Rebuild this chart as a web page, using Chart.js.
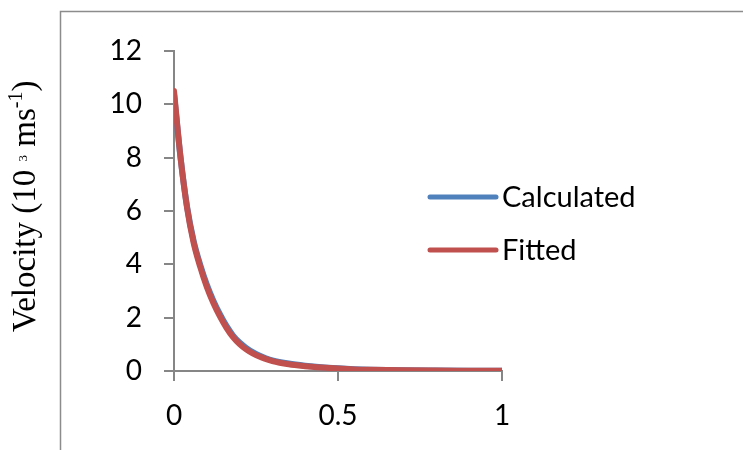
<!DOCTYPE html>
<html>
<head>
<meta charset="utf-8">
<script src="https://cdn.jsdelivr.net/npm/chart.js@4.4.0/dist/chart.umd.min.js"></script>
<style>
  html, body { margin: 0; padding: 0; background: #fff; }
  #wrap { width: 743px; height: 450px; }
</style>
</head>
<body>
<div id="wrap"><canvas id="chart" width="743" height="450"></canvas></div>
<script>
// values
const xValues = [0, 0.02, 0.04, 0.06, 0.08, 0.10, 0.12, 0.14, 0.16, 0.18, 0.20, 0.22, 0.24, 0.26, 0.28, 0.30, 0.35, 0.40, 0.45, 0.50, 0.55, 0.60, 0.70, 0.80, 0.90, 1.00];
const calculated = [10.4, 8.0, 6.15, 4.87, 3.98, 3.24, 2.64, 2.13, 1.69, 1.33, 1.07, 0.87, 0.71, 0.58, 0.48, 0.40, 0.28, 0.2, 0.14, 0.1, 0.07, 0.05, 0.03, 0.02, 0.012, 0.008];
const fitted = [10.5, 8.0, 6.1, 4.8, 3.9, 3.15, 2.55, 2.05, 1.62, 1.27, 1.01, 0.81, 0.66, 0.54, 0.45, 0.37, 0.25, 0.18, 0.13, 0.09, 0.06, 0.045, 0.025, 0.015, 0.01, 0.005];
const seriesNames = ['Calculated', 'Fitted'];
const seriesColors = ['#4F81BD', '#C0504D'];
const yTicks = [0, 2, 4, 6, 8, 10, 12];
const xTicks = [0, 0.5, 1];

const axisGrey = '#868686';
const tickFont = { family: 'Lato, "Open Sans", sans-serif', size: 28 };

function toPoints(ys) {
  return xValues.map((x, i) => ({ x: x, y: ys[i] }));
}

// grey frame, rotated y title with superscripts, and the legend
const decorations = {
  id: 'decorations',
  beforeDraw(chart) {
    const ctx = chart.ctx;
    ctx.save();
    ctx.fillStyle = '#fff';
    ctx.fillRect(0, 0, chart.width, chart.height);
    ctx.strokeStyle = '#8c8c8c';
    ctx.lineWidth = 1.5;
    ctx.strokeRect(60.5, 11.5, 900, 900);
    ctx.restore();
  },
  afterDraw(chart) {
    const ctx = chart.ctx;
    ctx.save();
    // y axis title
    ctx.translate(35, 332);
    ctx.rotate(-Math.PI / 2);
    ctx.fillStyle = '#000';
    ctx.textBaseline = 'alphabetic';
    const big = '33px "Liberation Serif", "Times New Roman", serif';
    const parts = [
      { t: 'Velocity (10 ', f: big, dy: 0 },
      { t: '3', f: '13px "Liberation Serif", serif', dy: -8 },
      { t: ' ms', f: big, dy: 0 },
      { t: '-1', f: '20px "Liberation Serif", serif', dy: -13 },
      { t: ')', f: big, dy: 0 }
    ];
    let x = 0;
    parts.forEach(p => {
      ctx.font = p.f;
      ctx.fillText(p.t, x, p.dy);
      x += ctx.measureText(p.t).width;
    });
    ctx.restore();

    // legend
    ctx.save();
    const rows = [197, 250];
    seriesNames.forEach((name, i) => {
      ctx.strokeStyle = seriesColors[i];
      ctx.lineWidth = 5;
      ctx.lineCap = 'round';
      ctx.beginPath();
      ctx.moveTo(430, rows[i]);
      ctx.lineTo(496, rows[i]);
      ctx.stroke();
      ctx.fillStyle = '#000';
      ctx.font = '29px ' + tickFont.family;
      ctx.textBaseline = 'alphabetic';
      ctx.fillText(name, 502, rows[i] + 10);
    });
    ctx.restore();
  }
};

new Chart(document.getElementById('chart'), {
  type: 'line',
  data: {
    datasets: [
      {
        label: seriesNames[0],
        data: toPoints(calculated),
        borderColor: seriesColors[0],
        borderWidth: 6,
        pointRadius: 0,
        cubicInterpolationMode: 'monotone',
        borderCapStyle: 'round',
        order: 2
      },
      {
        label: seriesNames[1],
        data: toPoints(fitted),
        borderColor: seriesColors[1],
        borderWidth: 6,
        pointRadius: 0,
        cubicInterpolationMode: 'monotone',
        borderCapStyle: 'round',
        order: 1
      }
    ]
  },
  options: {
    responsive: false,
    animation: false,
    layout: { padding: { top: 51, right: 241, left: 0, bottom: 0 } },
    plugins: {
      legend: { display: false },
      tooltip: { enabled: false }
    },
    scales: {
      x: {
        type: 'linear',
        min: 0,
        max: 1,
        afterFit(scale) { scale.height = 79; },
        afterBuildTicks(scale) { scale.ticks = xTicks.map(v => ({ value: v })); },
        ticks: { font: tickFont, color: '#000', padding: 18, maxRotation: 0, callback: v => String(v) },
        grid: { drawOnChartArea: false, drawTicks: true, tickLength: 10, color: axisGrey, lineWidth: 2 },
        border: { color: axisGrey, width: 2 }
      },
      y: {
        min: 0,
        max: 12,
        afterFit(scale) { scale.width = 174; },
        afterBuildTicks(scale) { scale.ticks = yTicks.map(v => ({ value: v })); },
        ticks: { font: tickFont, color: '#000', padding: 22 },
        grid: { drawOnChartArea: false, drawTicks: true, tickLength: 10, color: axisGrey, lineWidth: 2 },
        border: { color: axisGrey, width: 2 }
      }
    }
  },
  plugins: [decorations]
});
</script>
</body>
</html>
